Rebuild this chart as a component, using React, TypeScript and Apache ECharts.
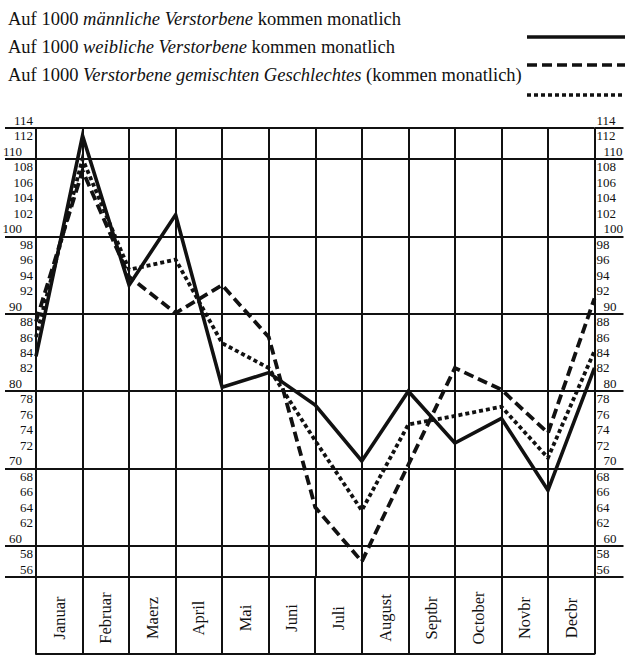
import React, { useEffect, useRef } from 'react';
import * as echarts from 'echarts';

const months = ['Januar', 'Februar', 'Maerz', 'April', 'Mai', 'Juni', 'Juli', 'August', 'Septbr', 'October', 'Novbr', 'Decbr'];
// 13 points: on the 13 vertical lines (start of Januar ... end of Decbr)
const maleValues = [83.5, 112, 92.7, 101.8, 79.5, 81.4, 77.2, 70, 79, 72.3, 75.5, 66.2, 82];
const femaleValues = [88, 107.5, 93.8, 89.1, 92.7, 86, 64, 57, 69.5, 82, 79.2, 73.6, 91];
const mixedValues = [86, 109, 94.7, 96, 85.2, 82, 72.6, 63.6, 74.7, 75.8, 77, 70.4, 84.2];

const regularTicks = [56, 58, 62, 64, 66, 68, 72, 74, 76, 78, 82, 84, 86, 88, 92, 94, 96, 98, 102, 104, 106, 108, 112, 114];
const decadeTicks = [60, 70, 80, 90, 100, 110];
const gridLineValues = [55, 59, 69, 79, 89, 99, 109, 113];

const legendTexts = [
  ['Auf 1000 ', 'männliche Verstorbene', ' kommen monatlich'],
  ['Auf 1000 ', 'weibliche Verstorbene', ' kommen monatlich'],
  ['Auf 1000 ', 'Verstorbene gemischten Geschlechtes', ' (kommen monatlich)'],
];
const seriesNames = ['männliche Verstorbene', 'weibliche Verstorbene', 'gemischten Geschlechtes'];

const FONT = '"Liberation Serif", "DejaVu Serif", serif';
const INK = '#111111';

export default function App() {
  const ref = useRef<HTMLDivElement>(null);

  useEffect(() => {
    if (!ref.current) return;
    const chart = echarts.init(ref.current, undefined, { renderer: 'svg' });

    const H = 657;
    const yMin = 55;
    const yMax = 113;
    const labelMax = 114;
    const plotTop = 128;
    const plotBottom = 80; // distance from bottom of canvas
    const gridLeft = 36;
    const gridRight = 30.5;
    const bandHeight = 77;
    const unit = (H - plotBottom - plotTop) / (yMax - yMin);
    const labelTop = plotTop - (labelMax - yMax) * unit;

    const dashes: (string | number[])[] = ['solid', [10, 5], [4, 3]];
    const widths = [3.6, 3.8, 3.8];
    const dataSets = [maleValues, femaleValues, mixedValues];

    const axisLabelBase = {
      color: INK,
      fontFamily: FONT,
      fontSize: 13,
      showMinLabel: true,
      showMaxLabel: true,
    };

    const labelAxis = (position: 'left' | 'right', values: number[], margin: number) => ({
      type: 'value',
      gridIndex: 0,
      position,
      min: yMin,
      max: labelMax,
      axisLine: { show: false, onZero: false },
      axisTick: { show: false },
      splitLine: { show: false },
      axisLabel: { ...axisLabelBase, customValues: values, margin },
    });

    const legendGraphics: any[] = [];
    const rowCenters = [19, 47, 75];
    const sampleY = [37, 65, 95];
    legendTexts.forEach((parts, i) => {
      legendGraphics.push({
        type: 'text',
        x: 8,
        y: rowCenters[i],
        style: {
          text: `{n|${parts[0]}}{i|${parts[1]}}{n|${parts[2]}}`,
          verticalAlign: 'middle',
          rich: {
            n: { fontFamily: FONT, fontSize: 18.5, fill: INK },
            i: { fontFamily: FONT, fontSize: 18.5, fontStyle: 'italic', fill: INK },
          },
        },
      });
      legendGraphics.push({
        type: 'line',
        shape: { x1: 527, y1: sampleY[i], x2: 625, y2: sampleY[i] },
        style: {
          stroke: INK,
          lineWidth: 3.4,
          lineDash: dashes[i] === 'solid' ? null : (dashes[i] as number[]),
        },
      });
    });

    chart.setOption({
      animation: false,
      backgroundColor: '#ffffff',
      grid: [
        { left: gridLeft, right: gridRight, top: labelTop, bottom: plotBottom, outerBoundsMode: 'none', containLabel: false },
        { left: gridLeft, right: gridRight, top: plotTop, bottom: plotBottom, outerBoundsMode: 'none', containLabel: false },
      ],
      xAxis: [
        {
          type: 'value',
          gridIndex: 1,
          min: 0,
          max: 12,
          interval: 1,
          axisLabel: { show: false },
          axisTick: { show: false },
          axisLine: { show: false, onZero: false },
          splitLine: { show: true, lineStyle: { color: INK, width: 2 } },
        },
        {
          type: 'category',
          gridIndex: 1,
          position: 'bottom',
          data: months,
          boundaryGap: true,
          axisLine: { show: false, onZero: false },
          axisTick: { show: true, interval: 0, length: bandHeight, lineStyle: { color: INK, width: 2 } },
          splitLine: { show: false },
          axisLabel: {
            interval: 0,
            rotate: 90,
            align: 'center',
            verticalAlign: 'middle',
            margin: 41,
            color: INK,
            fontFamily: FONT,
            fontSize: 16.5,
          },
        },
        {
          type: 'category',
          gridIndex: 1,
          position: 'bottom',
          offset: bandHeight,
          data: months,
          axisLine: { show: true, onZero: false, lineStyle: { color: INK, width: 2 } },
          axisTick: { show: false },
          axisLabel: { show: false },
          splitLine: { show: false },
        },
        {
          type: 'value',
          gridIndex: 0,
          min: 0,
          max: 12,
          show: false,
        },
      ],
      yAxis: [
        {
          type: 'value',
          gridIndex: 1,
          position: 'left',
          min: yMin,
          max: yMax,
          axisLabel: { show: false },
          axisLine: { show: false, onZero: false },
          axisTick: { show: true, customValues: gridLineValues, length: 31, lineStyle: { color: INK, width: 2 } },
          splitLine: { show: true, lineStyle: { color: INK, width: 2 } },
        },
        {
          type: 'value',
          gridIndex: 1,
          position: 'right',
          min: yMin,
          max: yMax,
          axisLabel: { show: false },
          axisLine: { show: false, onZero: false },
          axisTick: { show: true, customValues: gridLineValues, length: 29, lineStyle: { color: INK, width: 2 } },
          splitLine: { show: false },
        },
        labelAxis('left', regularTicks, 3),
        labelAxis('left', decadeTicks, 14),
        labelAxis('right', regularTicks, 2),
        labelAxis('right', decadeTicks, 9),
      ],
      series: dataSets.map((vals, i) => ({
        name: seriesNames[i],
        type: 'line',
        xAxisIndex: 0,
        yAxisIndex: 0,
        data: vals.map((v, k) => [k, v]),
        symbol: 'none',
        clip: false,
        z: 5 + (2 - i),
        lineStyle: { color: INK, width: widths[i], type: dashes[i], join: 'miter', cap: 'butt', miterLimit: 20 },
      })),
      graphic: legendGraphics,
    });

    return () => chart.dispose();
  }, []);

  return (
    <div
      ref={ref}
      style={{ position: 'fixed', left: 0, top: 0, width: 625, height: 657, background: '#fff' }}
    />
  );
}
